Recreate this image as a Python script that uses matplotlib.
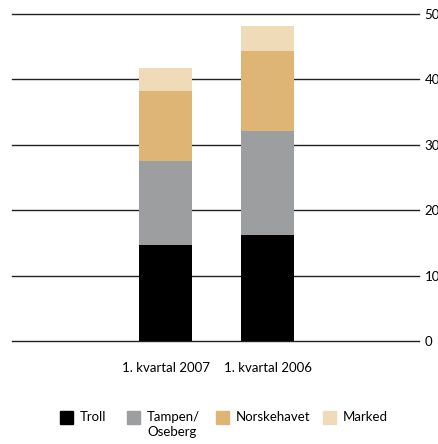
import matplotlib
matplotlib.use("Agg")
import matplotlib.pyplot as plt
from matplotlib.patches import Rectangle
import numpy as np

plt.rcParams['font.family'] = ['Lato', 'DejaVu Sans']

categories = ["1. kvartal 2007", "1. kvartal 2006"]
series_names = ["Troll", "Tampen/\nOseberg", "Norskehavet", "Marked"]
troll = [14.7, 16.2]
tampen = [12.8, 15.9]
norskehavet = [10.7, 12.2]
marked = [3.5, 3.9]
y_ticks = [0, 10, 20, 30, 40, 50]

colors = ["#000000", "#9d9ea0", "#dfb575", "#f0dbb9"]

fig = plt.figure(figsize=(4.39, 4.44), dpi=100)
ax = fig.add_axes([12 / 439, 1 - 341 / 444, 407 / 439, 327 / 444])

x = np.arange(len(categories))
bottom = np.zeros(len(categories))
for vals, c in zip([troll, tampen, norskehavet, marked], colors):
    ax.bar(x, vals, width=0.52, bottom=bottom, color=c, zorder=3)
    bottom += np.array(vals)

ax.set_xlim(-1.505, 2.485)
ax.set_ylim(0, 50)
ax.set_yticks(y_ticks)
ax.yaxis.tick_right()
ax.tick_params(axis='y', length=0, pad=4, labelsize=9.5)
ax.set_xticks(x)
ax.set_xticklabels(categories)
ax.tick_params(axis='x', length=0, pad=15, labelsize=9.5)
ax.grid(axis='y', color='#222222', linewidth=1, zorder=0)
for gl in ax.get_ygridlines():
    gl.set_clip_on(False)
for s in ax.spines.values():
    s.set_visible(False)

# legend drawn by hand so the square lines up with the first text line
leg_x = [60, 127, 216, 323]
for lx, name, c in zip(leg_x, series_names, colors):
    fig.patches.append(Rectangle((lx / 439, 1 - 424 / 444), 13 / 439, 13 / 444,
                                 transform=fig.transFigure, color=c))
    fig.text((lx + 20) / 439, 1 - 411 / 444, name, fontsize=9.5, va='top',
             ha='left', linespacing=1.3)

fig.savefig("out.png", dpi=100)
